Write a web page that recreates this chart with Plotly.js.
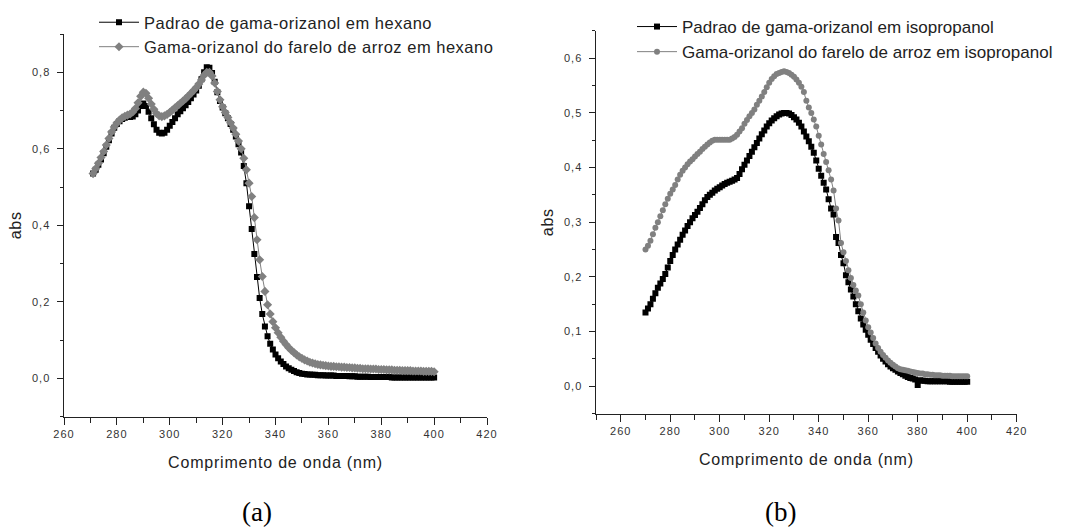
<!DOCTYPE html>
<html>
<head>
<meta charset="utf-8">
<script src="https://cdn.plot.ly/plotly-3.0.1.min.js"></script>
<style>
html,body{margin:0;padding:0;background:#fff;}
#chart{width:1083px;height:530px;}
g[class$="tick"] text{letter-spacing:1px;}
text[class$="title"]{letter-spacing:0.8px;}
.legendtext{letter-spacing:0.5px;}
</style>
</head>
<body>
<div id="chart"></div>
<script>
// ---------- Panel (a): hexano ----------
var wlA = [271,272,273,274,275,276,277,278,279,280,281,282,283,284,285,286,287,288,289,290,
291,292,293,294,295,296,297,298,299,300,301,302,303,304,305,306,307,308,309,310,
311,312,313,314,315,316,317,318,319,320,321,322,323,324,325,326,327,328,329,330,
331,332,333,334,335,336,337,338,339,340,341,342,343,344,345,346,347,348,349,350,
351,352,353,354,355,356,357,358,359,360,361,362,363,364,365,366,367,368,369,370,
371,372,373,374,375,376,377,378,379,380,381,382,383,384,385,386,387,388,389,390,
391,392,393,394,395,396,397,398,399,400];
var padraoHexano = [0.535,0.545,0.558,0.572,0.588,0.605,0.622,0.640,0.655,0.665,
0.672,0.678,0.681,0.683,0.683,0.684,0.690,0.700,0.712,0.718,
0.712,0.697,0.680,0.664,0.650,0.642,0.640,0.642,0.650,0.660,
0.670,0.680,0.690,0.698,0.706,0.714,0.722,0.732,0.742,0.752,
0.765,0.782,0.800,0.813,0.812,0.798,0.775,0.748,0.725,0.708,
0.693,0.680,0.665,0.650,0.632,0.612,0.590,0.555,0.510,0.450,
0.390,0.325,0.265,0.210,0.168,0.135,0.110,0.090,0.075,0.062,
0.052,0.044,0.037,0.031,0.026,0.022,0.019,0.016,0.014,0.012,
0.011,0.010,0.010,0.009,0.009,0.008,0.008,0.008,0.007,0.007,
0.007,0.007,0.006,0.006,0.006,0.006,0.006,0.005,0.005,0.005,
0.004,0.004,0.004,0.004,0.004,0.003,0.003,0.003,0.003,0.003,
0.003,0.003,0.003,0.002,0.002,0.002,0.002,0.002,0.002,0.002,
0.002,0.002,0.002,0.002,0.002,0.002,0.002,0.002,0.002,0.002];
var fareloHexano = [0.535,0.548,0.562,0.577,0.593,0.610,0.627,0.644,0.657,0.667,
0.675,0.681,0.685,0.688,0.691,0.696,0.705,0.720,0.737,0.748,
0.745,0.732,0.717,0.703,0.692,0.686,0.684,0.686,0.690,0.695,
0.701,0.707,0.713,0.719,0.725,0.731,0.738,0.745,0.752,0.760,
0.769,0.780,0.792,0.800,0.800,0.790,0.772,0.750,0.728,0.710,
0.695,0.682,0.668,0.654,0.638,0.620,0.600,0.575,0.545,0.510,
0.475,0.420,0.362,0.310,0.266,0.227,0.192,0.168,0.148,0.132,
0.119,0.107,0.097,0.088,0.080,0.073,0.067,0.061,0.056,0.052,
0.048,0.045,0.042,0.040,0.038,0.036,0.035,0.034,0.033,0.032,
0.031,0.031,0.030,0.030,0.029,0.029,0.028,0.028,0.027,0.027,
0.026,0.026,0.025,0.025,0.025,0.024,0.024,0.024,0.023,0.023,
0.023,0.022,0.022,0.022,0.021,0.021,0.021,0.020,0.020,0.020,
0.020,0.019,0.019,0.019,0.019,0.018,0.018,0.018,0.018,0.017];

// ---------- Panel (b): isopropanol ----------
var wlB = [270,271,272,273,274,275,276,277,278,279,280,281,282,283,284,285,286,287,288,289,290,
291,292,293,294,295,296,297,298,299,300,301,302,303,304,305,306,307,308,309,310,
311,312,313,314,315,316,317,318,319,320,321,322,323,324,325,326,327,328,329,330,
331,332,333,334,335,336,337,338,339,340,341,342,343,344,345,346,347,348,349,350,
351,352,353,354,355,356,357,358,359,360,361,362,363,364,365,366,367,368,369,370,
371,372,373,374,375,376,377,378,379,380,381,382,383,384,385,386,387,388,389,390,
391,392,393,394,395,396,397,398,399,400];
var padraoIso = [0.135,
0.142,0.150,0.160,0.170,0.180,0.188,0.196,0.205,0.217,0.229,
0.240,0.250,0.259,0.268,0.277,0.285,0.293,0.300,0.307,0.313,
0.319,0.326,0.333,0.340,0.346,0.350,0.354,0.358,0.361,0.364,
0.367,0.370,0.372,0.374,0.376,0.378,0.381,0.388,0.397,0.405,
0.413,0.421,0.429,0.437,0.445,0.453,0.461,0.468,0.475,0.481,
0.486,0.490,0.494,0.497,0.499,0.500,0.500,0.499,0.496,0.492,
0.488,0.482,0.475,0.466,0.457,0.448,0.438,0.427,0.413,0.398,
0.385,0.372,0.360,0.342,0.325,0.314,0.273,0.262,0.240,0.225,
0.203,0.190,0.177,0.164,0.150,0.137,0.124,0.113,0.103,0.094,
0.085,0.077,0.070,0.063,0.056,0.050,0.045,0.040,0.036,0.033,
0.030,0.027,0.024,0.022,0.019,0.017,0.015,0.014,0.012,0.002,
0.011,0.010,0.010,0.009,0.009,0.009,0.009,0.009,0.009,0.009,
0.009,0.009,0.008,0.008,0.008,0.008,0.008,0.008,0.008,0.008];
var fareloIso = [0.250,
0.257,0.266,0.278,0.290,0.300,0.311,0.322,0.333,0.343,0.352,
0.360,0.368,0.378,0.387,0.394,0.400,0.406,0.411,0.415,0.420,
0.425,0.429,0.434,0.438,0.442,0.446,0.449,0.451,0.451,0.451,
0.451,0.451,0.451,0.451,0.453,0.456,0.460,0.466,0.472,0.480,
0.487,0.494,0.500,0.506,0.515,0.522,0.530,0.538,0.547,0.555,
0.562,0.567,0.571,0.573,0.575,0.576,0.575,0.573,0.570,0.566,
0.561,0.555,0.548,0.538,0.522,0.510,0.500,0.488,0.475,0.458,
0.442,0.425,0.410,0.395,0.378,0.358,0.325,0.303,0.262,0.245,
0.229,0.212,0.198,0.185,0.175,0.166,0.150,0.135,0.120,0.108,
0.098,0.088,0.078,0.070,0.063,0.057,0.052,0.047,0.043,0.039,
0.036,0.033,0.031,0.030,0.029,0.028,0.027,0.026,0.025,0.024,
0.023,0.023,0.022,0.022,0.021,0.021,0.020,0.020,0.020,0.019,
0.019,0.019,0.019,0.018,0.018,0.018,0.018,0.018,0.018,0.018];

var namesA = ['Padrao de gama-orizanol em hexano', 'Gama-orizanol do farelo de arroz em hexano'];
var namesB = ['Padrao de gama-orizanol em isopropanol', 'Gama-orizanol do farelo de arroz em isopropanol'];
var xTitle = 'Comprimento de onda (nm)';
var yTitle = 'abs';
var captions = ['(a)', '(b)'];

var BLACK = '#000000', GRAY = '#808080';
var FONT = 'Liberation Sans, Arial, sans-serif';
var W = 1083, H = 530;
function px(x){return x/W;}
function py(y){return 1 - y/H;}

var traces = [
  {x: wlA, y: padraoHexano, name: namesA[0], type: 'scatter', mode: 'lines+markers',
   xaxis: 'x', yaxis: 'y', legend: 'legend', legendgroup: 'a1',
   line: {color: BLACK, width: 1}, marker: {symbol: 'square', size: 6, color: BLACK}},
  {x: wlA, y: fareloHexano, name: namesA[1], type: 'scatter', mode: 'lines+markers',
   xaxis: 'x', yaxis: 'y', legend: 'legend', legendgroup: 'a2',
   line: {color: GRAY, width: 1}, marker: {symbol: 'diamond', size: 7, color: GRAY}},
  {x: wlB, y: padraoIso, name: namesB[0], type: 'scatter', mode: 'lines+markers',
   xaxis: 'x2', yaxis: 'y2', legend: 'legend2', legendgroup: 'b1',
   line: {color: BLACK, width: 1}, marker: {symbol: 'square', size: 6, color: BLACK}},
  {x: wlB, y: fareloIso, name: namesB[1], type: 'scatter', mode: 'lines+markers',
   xaxis: 'x2', yaxis: 'y2', legend: 'legend2', legendgroup: 'b2',
   line: {color: GRAY, width: 1}, marker: {symbol: 'circle', size: 6, color: GRAY}}
];

var tickFont = {family: FONT, size: 11, color: '#333'};
var titleFont = {family: FONT, size: 16, color: '#222'};
function xAxis(dom, range, minor0){
  return {domain: dom, range: range, tick0: 260, dtick: 20, ticks: 'outside', ticklen: 7, tickwidth: 1,
    tickcolor: '#222', showline: true, linecolor: '#222', linewidth: 1.5, showgrid: false, zeroline: false,
    tickfont: tickFont, tickformat: 'd',
    minor: {tick0: minor0, dtick: 10, ticks: 'outside', ticklen: 5, tickwidth: 1, tickcolor: '#222', showgrid: false},
    title: {text: xTitle, font: titleFont, standoff: 17}};
}
function yAxis(dom, range, dtick, mdtick, anchor){
  return {domain: dom, range: range, anchor: anchor, tick0: 0, dtick: dtick, ticks: 'outside', ticklen: 6, tickwidth: 1,
    tickcolor: '#222', showline: true, linecolor: '#222', linewidth: 1.5, showgrid: false, zeroline: false,
    tickfont: tickFont, tickformat: '.1f', ticklabelstandoff: 4,
    minor: {tick0: 0, dtick: mdtick, ticks: 'outside', ticklen: 3, tickwidth: 1, tickcolor: '#222', showgrid: false},
    title: {text: yTitle, font: titleFont, standoff: 6}};
}

var layout = {
  width: W, height: H,
  margin: {l: 0, r: 0, t: 0, b: 0},
  paper_bgcolor: '#fff', plot_bgcolor: 'rgba(0,0,0,0)',
  separators: ',.',
  showlegend: true,
  xaxis: Object.assign(xAxis([px(64), px(487)], [260, 420], 260), {anchor: 'y'}),
  yaxis: yAxis([py(416.5), py(34)], [-0.1, 0.9], 0.2, 0.1, 'x'),
  xaxis2: Object.assign(xAxis([px(596), px(1016.7)], [250, 420], 250), {anchor: 'y2'}),
  yaxis2: yAxis([py(413.5), py(30.9)], [-0.05, 0.65], 0.1, 0.05, 'x2'),
  legend: {x: px(94), y: py(5), xanchor: 'left', yanchor: 'top', bgcolor: 'rgba(0,0,0,0)',
    font: {family: FONT, size: 16.5, color: '#222'}, tracegroupgap: 0, itemwidth: 40},
  legend2: {x: px(632), y: py(9), xanchor: 'left', yanchor: 'top', bgcolor: 'rgba(0,0,0,0)',
    font: {family: FONT, size: 17, color: '#222'}, tracegroupgap: 0, itemwidth: 40},
  shapes: [
    {type: 'rect', xref: 'paper', yref: 'paper', x0: px(597.5), x1: px(1083), y0: py(66), y1: 1,
     fillcolor: '#fff', line: {width: 0}, layer: 'above'}
  ],
  annotations: [
    {text: captions[0], xref: 'paper', yref: 'paper', x: px(257), y: py(512), xanchor: 'center', yanchor: 'middle',
     showarrow: false, font: {family: 'Liberation Serif, Times New Roman, serif', size: 27, color: '#000'}},
    {text: captions[1], xref: 'paper', yref: 'paper', x: px(780), y: py(512), xanchor: 'center', yanchor: 'middle',
     showarrow: false, font: {family: 'Liberation Serif, Times New Roman, serif', size: 27, color: '#000'}}
  ]
};

Plotly.newPlot('chart', traces, layout, {displayModeBar: false, staticPlot: true});
</script>
</body>
</html>
